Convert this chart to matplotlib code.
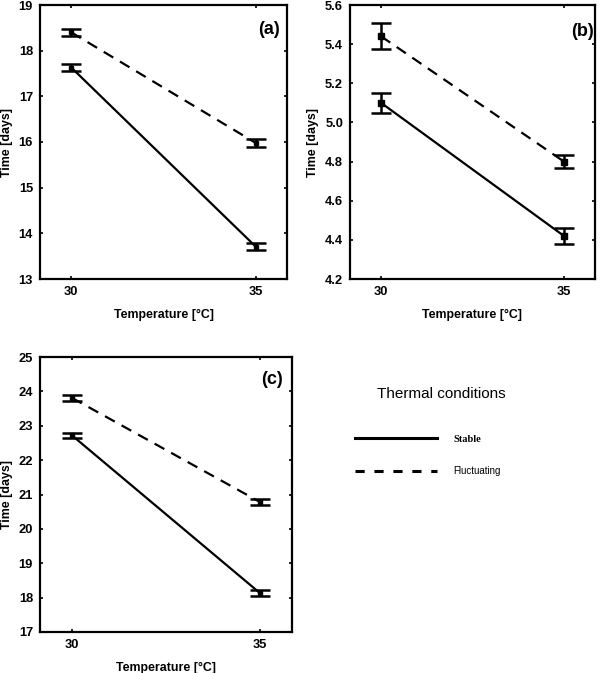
import numpy as np
import matplotlib
matplotlib.use('Agg')
import matplotlib.pyplot as plt
from matplotlib.lines import Line2D

plt.rcParams['font.family'] = ['Liberation Sans', 'DejaVu Sans']

temps = [30, 35]

# panel (a)
a_stable = [17.63, 13.71]
a_stable_err = [0.07, 0.08]
a_fluct = [18.40, 15.98]
a_fluct_err = [0.07, 0.08]

# panel (b)
b_stable = [5.10, 4.42]
b_stable_err = [0.05, 0.04]
b_fluct = [5.44, 4.80]
b_fluct_err = [0.066, 0.033]

# panel (c)
c_stable = [22.72, 18.13]
c_stable_err = [0.07, 0.08]
c_fluct = [23.81, 20.78]
c_fluct_err = [0.08, 0.08]

W, H = 602, 673
fig = plt.figure(figsize=(W / 100, H / 100), dpi=100)


def box(l, t, r, b):
    return [l / W, 1 - b / H, (r - l) / W, (b - t) / H]


def panel(rect, stable, s_err, fluct, f_err, yticks, ylim, label, lpos, fmt, ms):
    ax = fig.add_axes(rect)
    for y, e, ls in [(stable, s_err, '-'), (fluct, f_err, (0, (5, 3.5)))]:
        ax.plot(temps, y, color='black', lw=1.6, linestyle=ls)
        ax.errorbar(temps, y, yerr=e, fmt='s', color='black', ms=ms,
                    ecolor='black', elinewidth=1.8, capsize=7.5, capthick=1.8)
    ax.set_xlim(29.15, 35.85)
    ax.set_ylim(*ylim)
    ax.set_xticks(temps)
    ax.set_yticks(yticks)
    ax.set_yticklabels([fmt.format(v) for v in yticks])
    ax.tick_params(direction='in', length=2.5, width=1.2, labelsize=9.3,
                   top=True, right=True, pad=5)
    for lab in ax.get_xticklabels() + ax.get_yticklabels():
        lab.set_fontweight('bold')
    for s in ax.spines.values():
        s.set_linewidth(1.6)
    ax.set_xlabel('Temperature [°C]', fontsize=8.9, fontweight='bold', labelpad=8)
    ax.set_ylabel('Time [days]', fontsize=8.9, fontweight='bold', labelpad=4)
    ax.text(lpos[0], lpos[1], label, transform=ax.transAxes, ha='right', va='center',
            fontsize=13, fontweight='bold')
    return ax


panel(box(40, 5, 287, 279), a_stable, a_stable_err, a_fluct, a_fluct_err,
      np.arange(13, 20), (13, 19), '(a)', (0.972, 0.91), '{:.0f}', 2.5)
panel(box(350, 5, 595, 279), b_stable, b_stable_err, b_fluct, b_fluct_err,
      np.arange(4.2, 5.61, 0.2), (4.2, 5.6), '(b)', (0.995, 0.905), '{:.1f}', 4.5)
panel(box(40, 357, 292, 632), c_stable, c_stable_err, c_fluct, c_fluct_err,
      np.arange(17, 26), (17, 25), '(c)', (0.962, 0.92), '{:.0f}', 2.5)

# legend area
fig.text(441 / W, 1 - 394 / H, 'Thermal conditions', ha='center', va='center',
         fontsize=11)
fig.add_artist(Line2D([355 / W, 437 / W], [1 - 438 / H, 1 - 438 / H],
                      color='black', lw=2.2))
fig.add_artist(Line2D([355 / W, 437 / W], [1 - 471 / H, 1 - 471 / H],
                      color='black', lw=2.2, linestyle=(0, (3, 3.2))))
fig.text(453 / W, 1 - 439 / H, 'Stable', ha='left', va='center', fontsize=7.5,
         fontweight='bold', family=['Liberation Serif'])
fig.text(453 / W, 1 - 471 / H, 'Fluctuating', ha='left', va='center', fontsize=7)

fig.savefig('out.png', dpi=100)
